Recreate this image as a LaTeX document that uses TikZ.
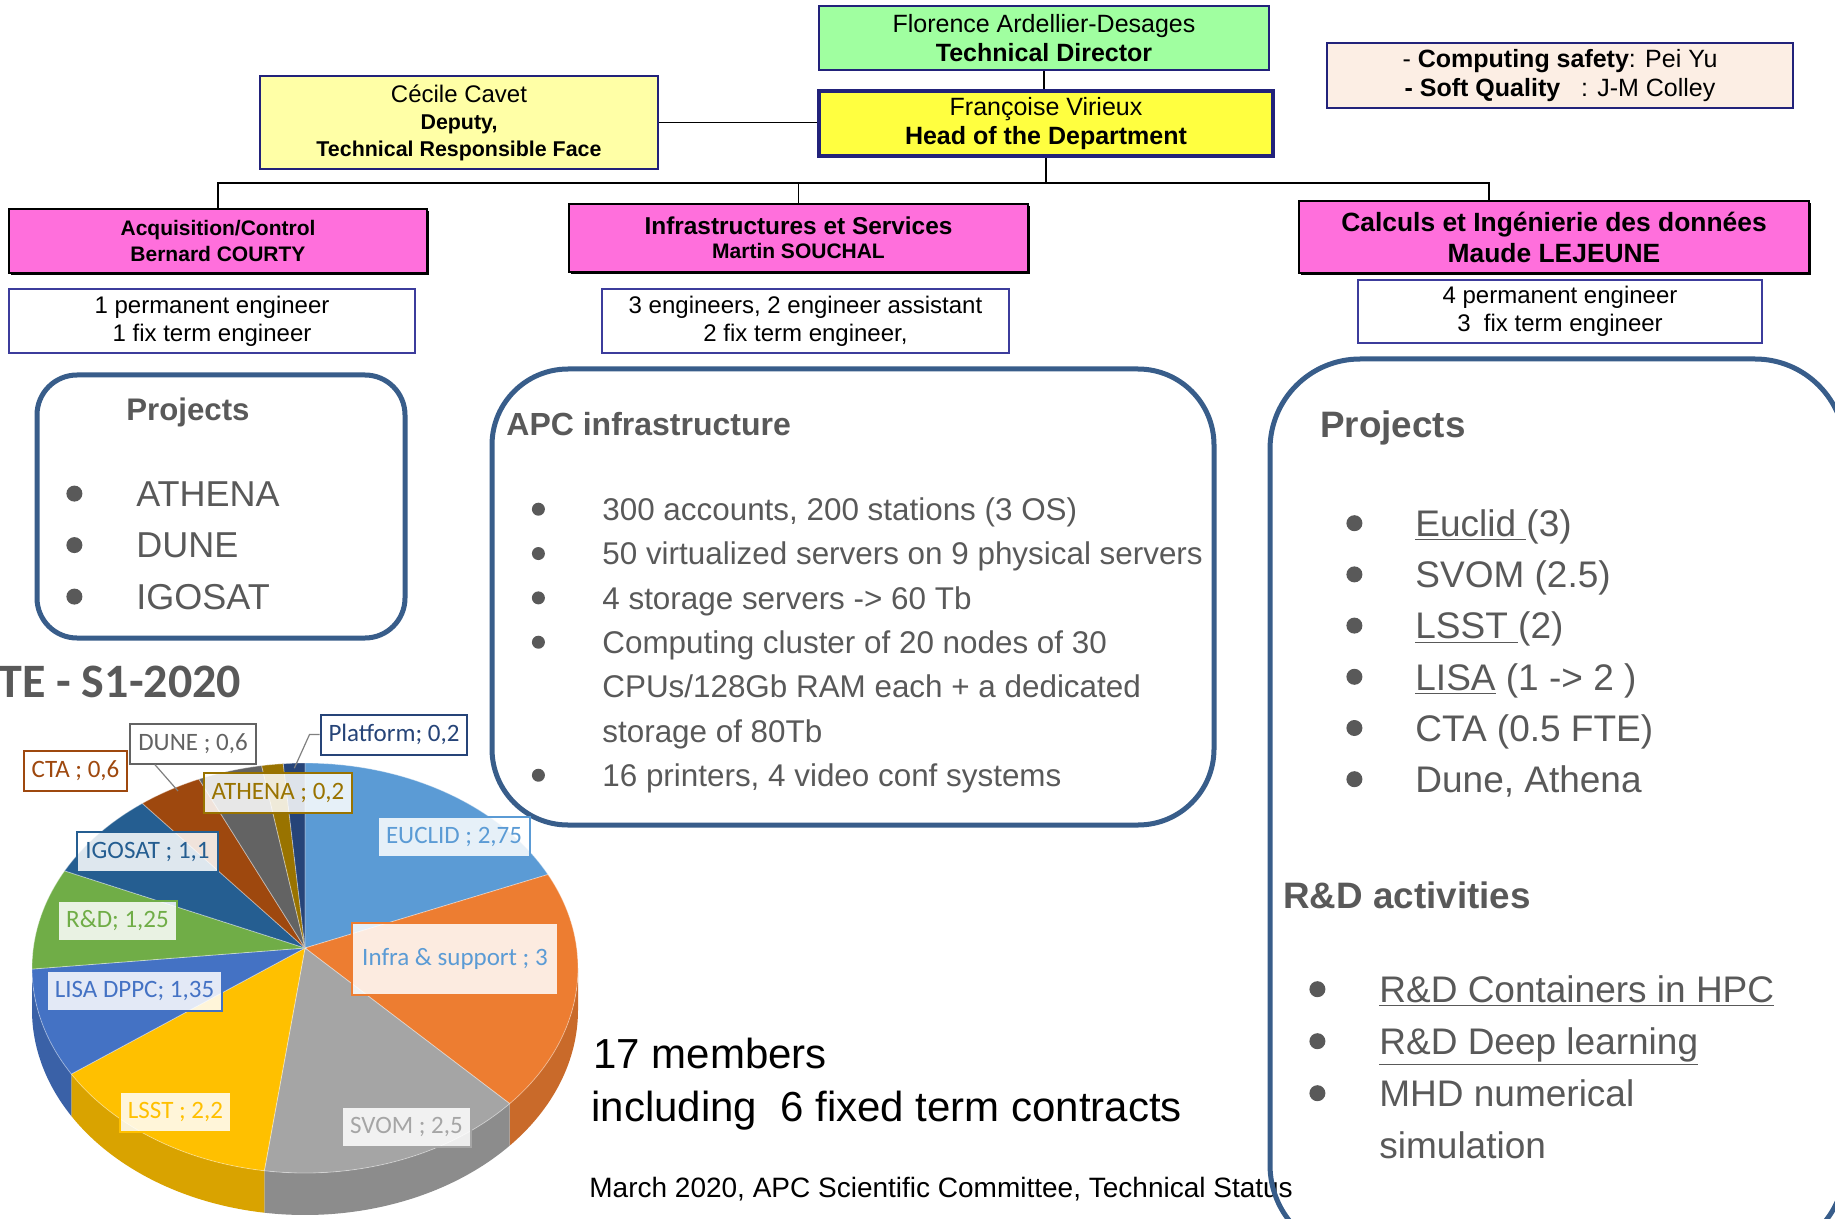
\documentclass[tikz,border=0pt]{standalone}
\usepackage{fontspec}
\setmainfont{Liberation Sans}
\newfontfamily\chartfont{Carlito}
\usetikzlibrary{matrix,calc,shadows}

\definecolor{boxblue}{HTML}{22227A}
\definecolor{staffblue}{HTML}{3C3C9C}
\definecolor{roundblue}{HTML}{385D8A}
\definecolor{textgray}{HTML}{595959}
\definecolor{dirgreen}{HTML}{A0FFA0}
\definecolor{headyellow}{HTML}{FFFF40}
\definecolor{deputyyellow}{HTML}{FFFFA6}
\definecolor{safetypeach}{HTML}{FCEEE4}
\definecolor{teampink}{HTML}{FF6FDC}
\definecolor{euclidc}{HTML}{5B9BD5}
\definecolor{infrac}{HTML}{ED7D31}
\definecolor{svomc}{HTML}{A5A5A5}
\definecolor{lsstc}{HTML}{FFC000}
\definecolor{lisac}{HTML}{4472C4}
\definecolor{rdc}{HTML}{70AD47}
\definecolor{igosatc}{HTML}{255E91}
\definecolor{ctac}{HTML}{9E480E}
\definecolor{dunec}{HTML}{636363}
\definecolor{athenac}{HTML}{997300}
\definecolor{platformc}{HTML}{264478}

\begin{document}
\begin{tikzpicture}[x=0.5pt,y=-0.5pt]
  \tikzset{
    chiefstyle/.style={draw=boxblue, line width=1pt, align=center, inner sep=0pt, font=\fontsize{12.5}{14.5}\selectfont},
    teamstyle/.style={draw=black, line width=1pt, fill=teampink, align=center, inner sep=0pt, font=\bfseries, drop shadow={shadow xshift=1.2pt, shadow yshift=-1.2pt, fill=black, opacity=1}},
    staffstyle/.style={draw=staffblue, line width=1pt, fill=white, align=center, inner sep=0pt, font=\fontsize{12}{14}\selectfont},
    roundstyle/.style={draw=roundblue, line width=2.5pt, inner sep=0pt},
    titlestyle/.style={anchor=west, inner sep=0pt, text=textgray},
    linkstyle/.style={draw=black, line width=0.8pt},
    dotstyle/.style={circle, fill=textgray, inner sep=0pt, minimum size=#1, text height=0pt, text depth=0pt},
    piestyle/.style={draw=#1, text=#1, fill=white, fill opacity=0.85, text opacity=1, line width=1pt, inner xsep=4pt, inner ysep=0pt, minimum height=20pt, font=\chartfont\fontsize{12.5}{14}\selectfont},
    listmatrix/.style={matrix of nodes, anchor=north west, inner sep=0pt, nodes={text=textgray, inner sep=0pt}, column 1/.style={anchor=base}, column 2/.style={anchor=base west}},
  }
  \useasboundingbox (0,0) rectangle (1835,1219);
  \clip (0,0) rectangle (1835,1219);
  \fill[white] (0,0) rectangle (1835,1219);

  % management
  \node[chiefstyle, fill=dirgreen, minimum width=225pt, minimum height=32pt] (director) at (1044,38) {Florence Ardellier-Desages\\\textbf{Technical Director}};
  \node[chiefstyle, fill=headyellow, line width=1.6pt, minimum width=227pt, minimum height=32.5pt] (head) at (1046,123.5) {Françoise Virieux\\\textbf{Head of the Department}};
  \node[chiefstyle, fill=deputyyellow, line width=1.3pt, minimum width=199pt, minimum height=46.5pt, font=\fontsize{10.7}{13.5}\selectfont] (deputy) at (459,122.5) {{\fontsize{12}{13.5}\selectfont Cécile Cavet}\\\textbf{Deputy,}\\\textbf{Technical Responsible Face}};
  \node[chiefstyle, fill=safetypeach, line width=1.3pt, minimum width=233pt, minimum height=32.5pt] (safety) at (1560,75.5) {- \textbf{Computing safety}: Pei Yu\\\textbf{- Soft Quality}\ \ \ : J-M Colley};

  % teams
  \node[teamstyle, minimum width=209pt, minimum height=32pt, font=\bfseries\fontsize{10.5}{13}\selectfont] (acq) at (218,241) {Acquisition/Control\\Bernard COURTY};
  \node[teamstyle, minimum width=229.5pt, minimum height=34pt] (infra) at (798.5,238) {{\fontsize{12.2}{13.5}\selectfont Infrastructures et Services}\\{\fontsize{10.5}{13.5}\selectfont Martin SOUCHAL}};
  \node[teamstyle, minimum width=255pt, minimum height=36pt, font=\bfseries\fontsize{13.2}{15.5}\selectfont] (calc) at (1554,237) {Calculs et Ingénierie des données\\Maude LEJEUNE};

  \node[staffstyle, minimum width=203pt, minimum height=32pt] (acqstaff) at (212,321) {1 permanent engineer\\1 fix term engineer};
  \node[staffstyle, minimum width=203.5pt, minimum height=32pt] (infrastaff) at (805.5,321) {3 engineers, 2 engineer assistant\\2 fix term engineer,};
  \node[staffstyle, minimum width=202pt, minimum height=31.5pt] (calcstaff) at (1560,311.5) {4 permanent engineer\\3\ \ fix term engineer};

  % links
  \coordinate (bus) at (0,183);
  \draw[linkstyle] (director.south) -- (director.south |- head.north);
  \draw[linkstyle] (deputy.east) -- (deputy.east -| head.west);
  \draw[linkstyle] (head.south) -- (head.south |- bus);
  \draw[linkstyle] (acq.north) -- (acq.north |- bus) -- ($(calc.north |- bus)+(-65,0)$) -- ($(calc.north)+(-65,0)$);
  \draw[linkstyle] (infra.north) -- (infra.north |- bus);

  % footer texts
  \node[anchor=base west, inner sep=0pt, font=\fontsize{21}{25}\selectfont] (members) at (593,1068) {17 members};
  \node[anchor=base west, inner sep=0pt, font=\fontsize{21}{25}\selectfont] (contracts) at (591,1121) {including\ \ 6 fixed term contracts};
  \node[anchor=base west, inner sep=0pt, font=\fontsize{14}{16}\selectfont] (footer) at (589,1197) {March 2020, APC Scientific Committee, Technical Status};

  % project frames
  \node[roundstyle, rounded corners=20pt, minimum width=184pt, minimum height=131.5pt] (acqframe) at (221,506.5) {};
  \node[roundstyle, rounded corners=38pt, minimum width=361pt, minimum height=228pt] (infraframe) at (853,597) {};
  \node[roundstyle, rounded corners=45pt, minimum width=287.5pt, minimum height=448pt] (calcframe) at (1557.5,807) {};

  \node[titlestyle, font=\bfseries\fontsize{15.6}{18}\selectfont] (acqtitle) at (126,412) {Projects};
  \node[titlestyle, font=\bfseries\fontsize{16}{18}\selectfont] (infratitle) at (506,424) {APC infrastructure};
  \node[titlestyle, font=\bfseries\fontsize{18.4}{21}\selectfont] (calctitle) at (1320,428) {Projects};
  \node[titlestyle, font=\bfseries\fontsize{18.4}{21}\selectfont] (rdtitle) at (1283,895) {R\&D activities};

  \matrix (acqlist) [listmatrix, column sep=27pt, row sep=7.75pt, nodes={font=\fontsize{18}{21}\selectfont, text height=14pt, text depth=4pt}] at (66,478) {
    |[dotstyle=8pt, yshift=6.4pt]| & ATHENA \\
    |[dotstyle=8pt, yshift=6.4pt]| & DUNE \\
    |[dotstyle=8pt, yshift=6.4pt]| & IGOSAT \\
  };
  \matrix (infralist) [listmatrix, column sep=28.75pt, row sep=6.67pt, nodes={font=\fontsize{15.7}{19}\selectfont, text height=12pt, text depth=3.5pt}] at (531.5,496) {
    |[dotstyle=6.5pt, yshift=5.6pt]| & 300 accounts, 200 stations (3 OS) \\
    |[dotstyle=6.5pt, yshift=5.6pt]| & 50 virtualized servers on 9 physical servers \\
    |[dotstyle=6.5pt, yshift=5.6pt]| & 4 storage servers -> 60 Tb \\
    |[dotstyle=6.5pt, yshift=5.6pt]| & Computing cluster of 20 nodes of 30 \\
                & CPUs/128Gb RAM each + a dedicated \\
                & storage of 80Tb \\
    |[dotstyle=6.5pt, yshift=5.6pt]| & 16 printers, 4 video conf systems \\
  };
  \matrix (calclist) [listmatrix, column sep=26.5pt, row sep=7.1pt, nodes={font=\fontsize{18.5}{22}\selectfont, text height=14pt, text depth=4.5pt}] at (1346,508) {
    |[dotstyle=8pt, yshift=6.6pt]| & \underline{Euclid }(3) \\
    |[dotstyle=8pt, yshift=6.6pt]| & SVOM (2.5) \\
    |[dotstyle=8pt, yshift=6.6pt]| & \underline{LSST }(2) \\
    |[dotstyle=8pt, yshift=6.6pt]| & \underline{LISA} (1 -> 2 ) \\
    |[dotstyle=8pt, yshift=6.6pt]| & CTA (0.5 FTE) \\
    |[dotstyle=8pt, yshift=6.6pt]| & Dune, Athena \\
  };
  \matrix (rdlist) [listmatrix, column sep=27pt, row sep=7.5pt, nodes={font=\fontsize{18.5}{22}\selectfont, text height=14pt, text depth=4.5pt}] at (1309,974) {
    |[dotstyle=8pt, yshift=6.6pt]| & \underline{R\&D Containers in HPC} \\
    |[dotstyle=8pt, yshift=6.6pt]| & \underline{R\&D Deep learning} \\
    |[dotstyle=8pt, yshift=6.6pt]| & MHD numerical \\
                & simulation \\
  };

  % FTE pie
  \node[anchor=west, inner sep=0pt, text=textgray, font=\chartfont\bfseries\fontsize{24}{28}\selectfont] (ftetitle) at (-2,682) {TE - S1-2020};
  \begin{scope}[shift={(305,968)}, x=0.5pt, y=0.5pt]
    \foreach \a/\b/\c in {0/-41.43/infrac, -41.43/-98.57/svomc, -98.57/-148.86/lsstc, -148.86/-180/lisac}
      \fill[\c!85!black] (\a:273 and 205) arc[start angle=\a, end angle=\b, x radius=273, y radius=205] -- ++(0,-42) arc[start angle=\b, end angle=\a, x radius=273, y radius=205] -- cycle;
    \foreach \a/\b/\c in {90/27.14/euclidc, 27.14/-41.43/infrac, -41.43/-98.57/svomc, -98.57/-148.86/lsstc, -148.86/-179.71/lisac, -179.71/-208.29/rdc, -208.29/-233.43/igosatc, -233.43/-247.14/ctac, -247.14/-260.86/dunec, -260.86/-265.43/athenac, -265.43/-270/platformc}
      \filldraw[fill=\c, draw=white, draw opacity=0.4, line width=0.4pt] (0,20) -- (\a:273 and 205) arc[start angle=\a, end angle=\b, x radius=273, y radius=205] -- cycle;
    \coordinate (platformtip) at (-267.7:266 and 200);
  \end{scope}
  \coordinate (dunetip) at (178,791);

  \node[piestyle=platformc] (platformlbl) at (394,734.5) {Platform; 0,2};
  \node[piestyle=dunec] (dunelbl) at (193,743.5) {DUNE ; 0,6};
  \node[piestyle=ctac] (ctalbl) at (75.5,770.5) {CTA ; 0,6};
  \node[piestyle=athenac] (athenalbl) at (278,792.5) {ATHENA ; 0,2};
  \node[piestyle=euclidc] (euclidlbl) at (454,836.5) {EUCLID ; 2,75};
  \node[piestyle=igosatc] (igosatlbl) at (147.5,851.5) {IGOSAT ; 1,1};
  \node[piestyle=rdc] (rdlbl) at (117.5,920.5) {R\&D; 1,25};
  \node[piestyle=infrac, text=euclidc, minimum height=36pt, inner xsep=5pt] (infralbl) at (455,958.5) {Infra \& support ; 3};
  \node[piestyle=lisac] (lisalbl) at (134.5,990.5) {LISA DPPC; 1,35};
  \node[piestyle=lsstc] (lsstlbl) at (175.5,1111.5) {LSST ; 2,2};
  \node[piestyle=svomc] (svomlbl) at (406.5,1126.5) {SVOM ; 2,5};
  \draw[gray, line width=0.6pt] (platformlbl.west) -- ++(-10,0) -- (platformtip);
  \draw[gray, line width=0.6pt] ($(dunelbl.south west)!0.2!(dunelbl.south east)$) -- (dunetip);
\end{tikzpicture}
\end{document}
